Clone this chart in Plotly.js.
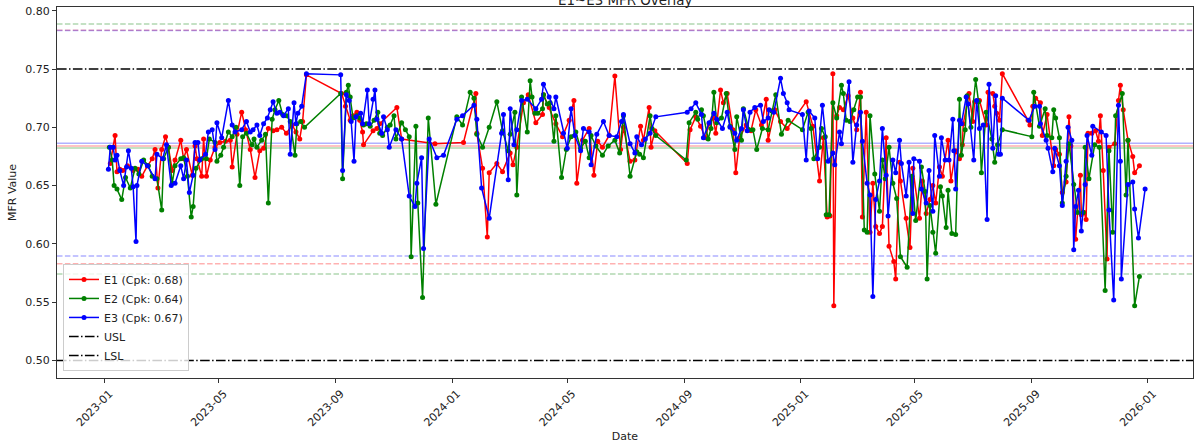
<!DOCTYPE html>
<html><head><meta charset="utf-8">
<script src="https://cdn.plot.ly/plotly-3.0.1.min.js"></script>
<style>html,body{margin:0;padding:0;background:#fff}#chart{width:1195px;height:445px}</style>
</head><body><div id="chart"></div>
<script>
// Day offsets from 2023-01-01 and MFR values
const startDate = '2023-01-01';

const e1Days = [6,9,11,13,16,19,24,30,35,39,45,50,53,56,60,64,67,71,74,80,83,86,92,95,97,102,104,107,111,116,121,127,132,134,139,144,148,153,158,163,167,172,177,181,186,191,197,201,205,208,212,
249,253,258,261,265,268,271,272,282,286,289,307,312,347,377,390,391,397,402,404,412,418,426,429,433,440,445,
453,460,461,467,474,481,488,493,496,502,509,514,518,523,530,536,542,545,552,557,563,566,572,574,578,
612,615,621,626,631,635,639,642,647,650,654,660,663,667,674,679,684,690,695,697,704,710,717,737,744,751,755,759,762,765,766,769,772,776,781,786,790,794,796,800,804,807,810,814,817,821,824,829,831,835,836,842,846,849,856,859,863,867,870,873,877,880,886,889,894,898,901,902,908,912,914,919,926,928,933,935,937,940,943,
970,972,975,978,983,985,990,997,999,1003,1006,1010,1013,1015,1020,1025,1026,1029,1031,1033,1037,1041,1044,1046,1049,1053,1055,1061,1065,1067,1070,1075,1080,1082,1087];
const e1Vals = [0.669,0.683,0.693,0.662,0.664,0.663,0.667,0.663,0.664,0.658,0.667,0.673,0.681,0.648,0.681,0.692,0.683,0.663,0.672,0.689,0.673,0.681,0.659,0.684,0.673,0.658,0.690,0.658,0.672,0.683,0.687,0.688,0.689,0.666,0.694,0.713,0.698,0.681,0.657,0.680,0.682,0.699,0.697,0.698,0.700,0.695,0.702,0.696,0.690,0.705,0.745,
0.729,0.718,0.706,0.710,0.713,0.706,0.696,0.685,0.697,0.699,0.703,0.717,0.690,0.686,0.687,0.729,0.695,0.665,0.606,0.661,0.669,0.662,0.678,0.668,0.683,0.721,0.728,
0.704,0.711,0.728,0.717,0.703,0.692,0.706,0.723,0.652,0.689,0.699,0.659,0.688,0.683,0.693,0.744,0.681,0.700,0.671,0.672,0.701,0.689,0.717,0.683,0.697,
0.669,0.698,0.709,0.701,0.691,0.703,0.708,0.695,0.732,0.721,0.729,0.698,0.661,0.691,0.702,0.697,0.715,0.702,0.724,0.689,0.715,0.705,0.699,0.722,0.701,0.654,0.691,0.623,0.624,0.746,0.547,0.710,0.717,0.715,0.727,0.708,0.698,0.730,0.623,0.713,0.610,0.652,0.615,0.609,0.615,0.691,0.598,0.585,0.570,0.670,0.654,0.622,0.597,0.665,0.622,0.654,0.626,0.638,0.650,0.635,0.666,0.658,0.689,0.654,0.680,0.673,0.685,0.703,0.729,0.705,0.722,0.723,0.702,0.730,0.729,0.718,0.712,0.706,0.746,
0.706,0.702,0.718,0.725,0.721,0.693,0.711,0.667,0.681,0.677,0.644,0.653,0.709,0.684,0.604,0.659,0.625,0.627,0.621,0.695,0.695,0.697,0.688,0.710,0.663,0.587,0.683,0.686,0.723,0.736,0.715,0.689,0.675,0.661,0.667];

const e2Days = [5,8,10,13,18,22,27,32,36,41,46,50,55,60,62,67,71,74,80,83,87,91,93,96,102,107,110,116,118,122,125,130,134,138,142,145,149,155,157,160,165,169,172,176,179,183,187,191,195,200,202,206,210,
248,250,254,256,258,261,265,268,272,275,279,283,287,289,292,297,300,304,306,312,316,320,322,327,329,334,340,348,370,376,384,388,391,397,404,412,418,424,426,431,433,438,444,447,449,452,455,460,461,465,468,472,474,480,485,490,495,500,505,509,511,516,523,529,536,541,545,552,559,562,566,573,575,579,
611,614,621,623,627,629,634,637,640,643,648,653,657,662,664,669,671,677,681,685,691,697,701,705,711,718,733,739,742,745,751,753,757,758,761,765,769,774,776,779,783,787,791,794,798,801,804,809,814,817,820,824,828,832,836,843,848,852,858,862,864,867,870,873,878,880,884,886,890,894,898,900,904,906,910,915,918,921,926,932,935,938,943,
974,976,982,988,990,995,997,999,1003,1006,1010,1013,1018,1022,1028,1030,1034,1040,1045,1051,1055,1059,1062,1069,1073,1075,1082,1087];
const e2Vals = [0.683,0.672,0.650,0.647,0.638,0.657,0.648,0.665,0.660,0.672,0.667,0.658,0.656,0.629,0.673,0.683,0.652,0.667,0.673,0.674,0.658,0.623,0.632,0.665,0.673,0.673,0.690,0.687,0.671,0.676,0.683,0.696,0.692,0.700,0.650,0.692,0.695,0.685,0.690,0.683,0.689,0.694,0.635,0.707,0.715,0.723,0.711,0.710,0.705,0.676,0.703,0.705,0.700,
0.729,0.656,0.730,0.736,0.726,0.708,0.710,0.708,0.702,0.703,0.701,0.706,0.713,0.695,0.693,0.700,0.702,0.710,0.690,0.704,0.698,0.692,0.589,0.701,0.635,0.554,0.708,0.634,0.709,0.702,0.730,0.725,0.694,0.683,0.700,0.722,0.697,0.680,0.694,0.713,0.642,0.726,0.696,0.740,0.726,0.712,0.712,0.716,0.728,0.720,0.721,0.688,0.710,0.657,0.681,0.692,0.696,0.682,0.688,0.674,0.693,0.684,0.676,0.684,0.689,0.678,0.710,0.658,0.679,0.677,0.674,0.710,0.699,0.693,
0.672,0.704,0.713,0.707,0.715,0.710,0.690,0.699,0.730,0.704,0.708,0.729,0.701,0.681,0.709,0.689,0.716,0.698,0.698,0.681,0.699,0.698,0.714,0.728,0.694,0.706,0.698,0.713,0.699,0.673,0.683,0.699,0.692,0.625,0.625,0.721,0.708,0.736,0.729,0.706,0.705,0.715,0.726,0.726,0.612,0.610,0.710,0.660,0.628,0.672,0.656,0.683,0.652,0.639,0.589,0.580,0.658,0.620,0.666,0.645,0.570,0.633,0.610,0.592,0.649,0.641,0.614,0.646,0.609,0.608,0.724,0.676,0.698,0.727,0.700,0.741,0.722,0.661,0.713,0.690,0.670,0.685,0.698,
0.692,0.730,0.701,0.716,0.693,0.691,0.715,0.708,0.691,0.635,0.658,0.686,0.651,0.627,0.627,0.683,0.656,0.685,0.683,0.560,0.680,0.610,0.710,0.729,0.642,0.689,0.547,0.572];

const e3Days = [4,6,9,11,13,16,20,23,25,28,30,33,34,39,45,53,55,61,65,70,74,80,83,86,89,93,95,98,100,106,109,113,116,118,123,130,134,137,144,149,153,156,160,163,167,171,174,177,181,184,188,193,195,199,201,203,207,212,
248,250,254,257,259,262,264,269,271,276,278,282,284,286,291,293,297,299,306,312,320,326,328,333,335,341,349,356,370,376,388,391,396,404,417,419,424,426,430,433,438,444,
453,459,461,467,472,474,482,486,490,494,500,503,509,511,517,524,530,538,543,545,552,557,559,564,568,573,579,
612,616,621,627,629,635,640,643,649,654,657,662,664,669,671,675,678,683,689,692,697,698,703,710,713,717,719,733,737,740,746,749,754,760,765,767,772,774,782,786,790,794,796,801,804,807,810,814,817,821,823,828,831,835,837,842,845,849,850,856,858,863,866,870,872,877,879,883,887,891,892,894,898,900,905,907,913,916,919,923,927,929,933,936,939,941,943,
971,977,982,983,989,991,996,998,1003,1006,1010,1012,1016,1018,1020,1023,1026,1030,1032,1037,1038,1047,1052,1055,1060,1065,1067,1068,1075,1080,1082,1086,1093];
const e3Vals = [0.664,0.683,0.683,0.672,0.676,0.663,0.650,0.666,0.680,0.665,0.649,0.602,0.650,0.671,0.667,0.656,0.677,0.673,0.685,0.650,0.652,0.667,0.656,0.672,0.644,0.659,0.687,0.687,0.672,0.677,0.696,0.698,0.681,0.704,0.691,0.723,0.702,0.696,0.698,0.705,0.696,0.698,0.702,0.693,0.703,0.708,0.715,0.722,0.712,0.713,0.710,0.716,0.677,0.721,0.703,0.712,0.718,0.746,
0.745,0.663,0.728,0.723,0.705,0.671,0.709,0.712,0.703,0.732,0.703,0.724,0.732,0.707,0.695,0.709,0.698,0.683,0.698,0.690,0.641,0.632,0.652,0.674,0.596,0.690,0.674,0.676,0.707,0.710,0.719,0.707,0.648,0.622,0.695,0.711,0.655,0.716,0.685,0.698,0.723,0.724,
0.716,0.724,0.737,0.726,0.716,0.726,0.695,0.682,0.716,0.693,0.680,0.699,0.696,0.668,0.694,0.705,0.693,0.692,0.705,0.711,0.686,0.678,0.692,0.685,0.690,0.695,0.709,
0.713,0.716,0.721,0.711,0.691,0.704,0.712,0.707,0.699,0.713,0.700,0.695,0.689,0.699,0.715,0.697,0.713,0.717,0.719,0.705,0.708,0.715,0.713,0.742,0.729,0.721,0.715,0.711,0.672,0.714,0.708,0.673,0.719,0.671,0.678,0.668,0.696,0.686,0.739,0.670,0.702,0.713,0.688,0.652,0.642,0.555,0.638,0.654,0.699,0.659,0.624,0.672,0.661,0.689,0.669,0.641,0.670,0.626,0.673,0.671,0.647,0.635,0.663,0.628,0.693,0.658,0.691,0.672,0.672,0.707,0.680,0.647,0.706,0.703,0.726,0.720,0.672,0.723,0.699,0.702,0.621,0.737,0.682,0.727,0.677,0.677,0.725,
0.706,0.718,0.718,0.703,0.689,0.682,0.662,0.682,0.667,0.633,0.671,0.700,0.689,0.595,0.632,0.646,0.611,0.651,0.693,0.676,0.701,0.696,0.693,0.629,0.552,0.719,0.671,0.570,0.651,0.653,0.630,0.605,0.647];

const seriesNames = ['E1 (Cpk: 0.68)', 'E2 (Cpk: 0.64)', 'E3 (Cpk: 0.67)'];
const seriesColors = ['#ff0000', '#008000', '#0000ff'];
const meanVals = [0.6840, 0.6822, 0.6863];
const uclVals = [0.7832, 0.7886, 0.7830];
const lclVals = [0.5830, 0.5742, 0.5896];
const uslVal = 0.75;
const lslVal = 0.50;
const limitNames = ['USL', 'LSL'];
const xTickLabels = ['2023-01','2023-05','2023-09','2024-01','2024-05','2024-09','2025-01','2025-05','2025-09','2026-01'];
const yTickVals = [0.50, 0.55, 0.60, 0.65, 0.70, 0.75, 0.80];

const base = Date.UTC(2023, 0, 1);
const toDate = d => new Date(base + d * 86400000).toISOString().slice(0, 10);

const dayArrays = [e1Days, e2Days, e3Days];
const valArrays = [e1Vals, e2Vals, e3Vals];
const FONT = 'DejaVu Sans, Liberation Sans, sans-serif';
const dashDot = '9.6px,2.4px,1.5px,2.4px';

const traces = seriesNames.map((name, i) => ({
  type: 'scatter', mode: 'lines+markers', name,
  x: dayArrays[i].map(toDate), y: valArrays[i],
  line: {color: seriesColors[i], width: 1.5},
  marker: {color: seriesColors[i], size: 5}
}));
limitNames.forEach(n => traces.push({
  type: 'scatter', mode: 'lines', name: n, x: [null], y: [null],
  line: {color: '#000', width: 1.5, dash: dashDot}
}));

const shapes = [];
seriesColors.forEach((c, i) => {
  shapes.push({type:'line', xref:'paper', x0:0, x1:1, yref:'y', y0:meanVals[i], y1:meanVals[i], layer:'below', opacity:0.3, line:{color:c, width:1.5}});
  shapes.push({type:'line', xref:'paper', x0:0, x1:1, yref:'y', y0:uclVals[i], y1:uclVals[i], layer:'below', opacity:0.3, line:{color:c, width:1.5, dash:'5.5px,2.4px'}});
  shapes.push({type:'line', xref:'paper', x0:0, x1:1, yref:'y', y0:lclVals[i], y1:lclVals[i], layer:'below', opacity:0.3, line:{color:c, width:1.5, dash:'5.5px,2.4px'}});
});
[uslVal, lslVal].forEach(v => shapes.push({type:'line', xref:'paper', x0:0, x1:1, yref:'y', y0:v, y1:v, layer:'below', line:{color:'#000', width:1.5, dash:dashDot}}));

const layout = {
  width: 1195, height: 445,
  margin: {l: 57, r: 2, t: 7, b: 67},
  paper_bgcolor: '#fff', plot_bgcolor: '#fff',
  font: {family: FONT, size: 11, color: '#222'},
  title: {text: 'E1~E3 MFR Overlay', font: {family: FONT, size: 13.4, color: '#222'}, x: 0.5232, xanchor: 'center', xref: 'container', yref: 'container', y: 0.9888, yanchor: 'bottom', pad: {t:0, b:0}},
  showlegend: true,
  legend: {x: 0.0053, y: 0.019, xanchor: 'left', yanchor: 'bottom', bgcolor: 'rgba(255,255,255,0.8)', bordercolor: '#cccccc', borderwidth: 1, font: {family: FONT, size: 11, color: '#222'}, tracegroupgap: 0},
  xaxis: {
    type: 'date', range: ['2022-11-12', '2026-02-17 07:00'],
    tickvals: xTickLabels.map(s => s + '-01'), ticktext: xTickLabels, tickangle: -45, ticklabelshift: 5,
    ticks: 'outside', ticklen: 4, tickcolor: '#333', showline: true, linecolor: '#333', linewidth: 1, mirror: true,
    showgrid: false, zeroline: false,
    title: {text: 'Date', font: {family: FONT, size: 11, color: '#222'}, standoff: 4}
  },
  yaxis: {
    range: [0.4850, 0.8032], tickvals: yTickVals, tickformat: '.2f',
    ticks: 'outside', ticklen: 4, tickcolor: '#333', showline: true, linecolor: '#333', linewidth: 1, mirror: true,
    showgrid: false, zeroline: false,
    title: {text: 'MFR Value', font: {family: FONT, size: 11, color: '#222'}, standoff: 6}
  },
  shapes
};

Plotly.newPlot('chart', traces, layout, {staticPlot: true, displayModeBar: false});
</script>
</body></html>
